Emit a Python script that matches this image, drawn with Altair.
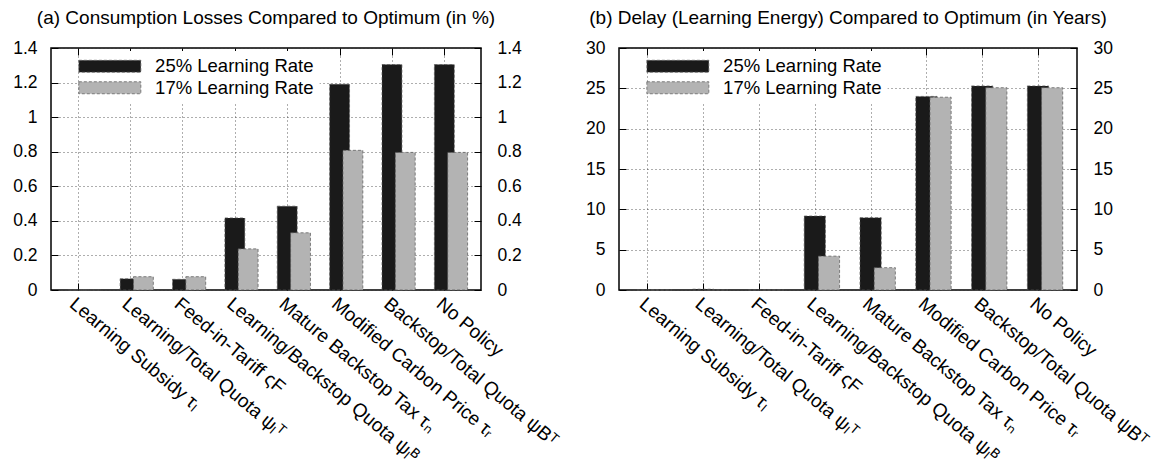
import json
import altair as alt
import pandas as pd

FONT = "Liberation Sans"

categories = [
    "Learning Subsidy τₗ",
    "Learning/Total Quota ψₗᵀ",
    "Feed-in-Tariff ςF",
    "Learning/Backstop Quota ψₗᴮ",
    "Mature Backstop Tax τₙ",
    "Modified Carbon Price τᵣ",
    "Backstop/Total Quota ψBᵀ",
    "No Policy",
]
series = ["25% Learning Rate", "17% Learning Rate"]
colors = ["#1a1a1a", "#b3b3b3"]

loss_25 = [0.0, 0.065, 0.062, 0.417, 0.485, 1.19, 1.304, 1.304]
loss_17 = [0.0, 0.077, 0.077, 0.238, 0.331, 0.808, 0.796, 0.796]
delay_25 = [0.0, 0.1, 0.0, 9.17, 8.97, 24.0, 25.3, 25.3]
delay_17 = [0.0, 0.0, 0.0, 4.2, 2.77, 23.9, 25.08, 25.08]

loss_ticks = [0, 0.2, 0.4, 0.6, 0.8, 1, 1.2, 1.4]
delay_ticks = [0, 5, 10, 15, 20, 25, 30]

title_a = "(a) Consumption Losses Compared to Optimum (in %)"
title_b = "(b) Delay (Learning Energy) Compared to Optimum (in Years)"

label_expr = json.dumps(categories, ensure_ascii=False) + "[datum.value]"
cat_ticks = list(range(len(categories)))


def make_df(v25, v17):
    rows = []
    for s, vals in zip(series, [v25, v17]):
        for i, v in enumerate(vals):
            rows.append({"idx": i, "series": s, "value": v})
    return pd.DataFrame(rows)


def tick_axis(orient, values):
    # inward-pointing tick marks (axis pulled inside the frame)
    return alt.Axis(
        orient=orient,
        values=values,
        labels=False,
        grid=False,
        domain=False,
        ticks=True,
        tickSize=7,
        tickColor="black",
        tickWidth=1,
        offset=-7,
        title=None,
    )


def panel(v25, v17, ticks, ymax, title, width, height):
    df = make_df(v25, v17)
    base = alt.Chart(df).transform_calculate(
        xc="datum.idx + (datum.series == '17% Learning Rate' ? 0.254 : 0)"
    ).transform_calculate(
        xa="datum.xc - 0.19", xb="datum.xc + 0.19"
    )
    xscale = alt.Scale(domain=[-0.51, 7.7], nice=False, zero=False)
    yscale = alt.Scale(domain=[0, ymax], nice=False, zero=True)
    xenc = alt.X(
        "xa:Q",
        scale=xscale,
        axis=alt.Axis(
            values=cat_ticks,
            labelExpr=label_expr,
            labelAngle=40,
            labelAlign="left",
            labelBaseline="top",
            labelPadding=4,
            labelFontSize=19,
            labelFont=FONT,
            labelColor="black",
            labelOverlap=False,
            labelFlush=False,
            labelBound=False,
            labelLimit=1000,
            grid=True,
            gridDash=[1, 3],
            gridColor="#333",
            gridWidth=0.8,
            ticks=False,
            domain=False,
            title=None,
        ),
    )
    bars = base.mark_bar(
        stroke="#555", strokeDash=[3, 2], strokeWidth=0.7, opacity=1
    ).encode(
        x=xenc,
        x2="xb:Q",
        y=alt.Y(
            "value:Q",
            scale=yscale,
            axis=alt.Axis(
                values=ticks,
                format="~g",
                grid=True,
                gridDash=[1, 3],
                gridColor="#333",
                gridWidth=0.8,
                ticks=False,
                domain=False,
                title=None,
                labelPadding=14,
                labelFontSize=17.5,
                labelFont=FONT,
                labelColor="black",
            ),
        ),
        y2=alt.datum(0),
        color=alt.Color(
            "series:N",
            scale=alt.Scale(domain=series, range=colors),
            legend=alt.Legend(
                orient="none",
                legendX=43.6,
                legendY=3,
                title=None,
                symbolType="M-3.875,-0.75H3.875V0.75H-3.875Z",
                symbolSize=256,
                symbolStrokeColor="#666",
                symbolDash=[3, 2],
                symbolStrokeWidth=0.8,
                symbolOpacity=1,
                labelFontSize=18.5,
                labelFont=FONT,
                labelColor="black",
                labelOffset=36,
                fillColor="white",
                padding=6,
                rowPadding=2.5,
            ),
        ),
    )
    right_labels = base.mark_bar(opacity=0).encode(
        x=alt.X("xa:Q", scale=xscale, axis=None),
        x2="xb:Q",
        y=alt.Y(
            "value:Q",
            scale=yscale,
            axis=alt.Axis(
                orient="right",
                values=ticks,
                format="~g",
                grid=False,
                ticks=False,
                domain=False,
                title=None,
                labelPadding=16,
                labelFontSize=17.5,
                labelFont=FONT,
                labelColor="black",
            ),
        ),
        y2=alt.datum(0),
    )
    ghost_layers = []
    for orient in ["left", "right"]:
        ghost_layers.append(
            base.mark_bar(opacity=0).encode(
                x=alt.X("xa:Q", scale=xscale, axis=None),
                x2="xb:Q",
                y=alt.Y("value:Q", scale=yscale, axis=tick_axis(orient, ticks)),
                y2=alt.datum(0),
            )
        )
    for orient in ["bottom", "top"]:
        ghost_layers.append(
            base.mark_bar(opacity=0).encode(
                x=alt.X("xa:Q", scale=xscale, axis=tick_axis(orient, cat_ticks)),
                x2="xb:Q",
                y=alt.Y("value:Q", scale=yscale, axis=None),
                y2=alt.datum(0),
            )
        )
    return (
        alt.layer(bars, right_labels, *ghost_layers)
        .resolve_scale(x="independent", y="independent")
        .properties(
            width=width,
            height=height,
            title=alt.Title(
                title,
                fontSize=19,
                font=FONT,
                fontWeight="normal",
                anchor="middle",
                frame="group",
                baseline="alphabetic",
                offset=-4,
                color="black",
            ),
        )
    )


pa = panel(loss_25, loss_17, loss_ticks, 1.4, title_a, 430, 242)
pb = panel(delay_25, delay_17, delay_ticks, 30, title_b, 458, 242)

chart = (
    alt.hconcat(pa, pb, spacing=138, bounds="flush")
    .resolve_legend(color="independent")
    .configure(padding={"left": 3, "top": 0, "right": 0, "bottom": 0})
    .configure_view(stroke="black", strokeWidth=1.5)
)

chart.save("out.html", embed_options={"renderer": "svg", "actions": False})
